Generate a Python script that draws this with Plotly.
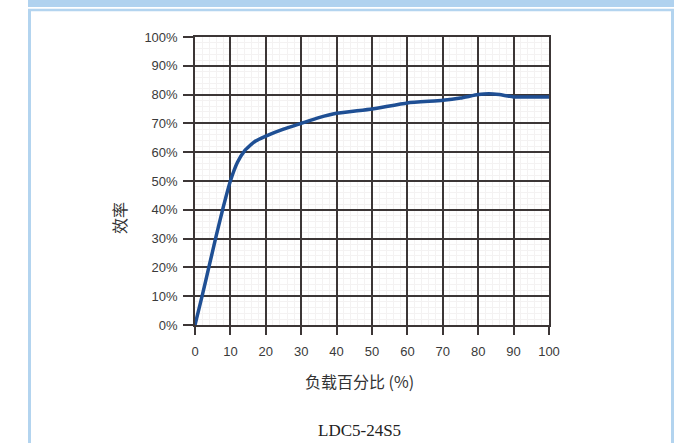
import plotly.graph_objects as go

# Efficiency vs. load curve for the LDC5-24S5 module
load_pct = [0, 2, 4, 6, 8, 10, 12, 14, 17, 20, 25, 30, 35, 40, 50, 60, 70, 75, 80, 83, 86, 90, 100]
efficiency = [0, 10, 20.5, 31, 41, 50, 56.5, 60.5, 63.8, 65.6, 68, 70, 72, 73.5, 75, 77.1, 78, 78.8, 80, 80.3, 80, 79.2, 79.2]

x_ticks = [0, 10, 20, 30, 40, 50, 60, 70, 80, 90, 100]
y_ticks = [0, 10, 20, 30, 40, 50, 60, 70, 80, 90, 100]
y_labels = [f"{v}%" for v in y_ticks]

W, H = 694, 443
L, R, T, B = 195, 549, 37, 325  # plot area in pixels


def px(x):
    return (x - L) / (R - L)


def py(y):
    return (B - y) / (B - T)


fig = go.Figure()
fig.add_trace(go.Scatter(
    x=load_pct, y=efficiency, mode="lines",
    line=dict(color="#1f4f94", width=3.5, shape="spline", smoothing=0.5),
    hoverinfo="skip", showlegend=False,
))

grid = "#3c3636"
font_tick = dict(family="Liberation Sans, Arial, sans-serif", size=13, color="#3a3a3a")

fig.update_xaxes(
    range=[0, 100], tickvals=x_ticks, ticktext=[str(v) for v in x_ticks],
    showgrid=True, gridcolor=grid, gridwidth=1.5,
    minor=dict(dtick=2, showgrid=True, gridcolor="#f4f2f2", gridwidth=1),
    zeroline=False, showline=True, linecolor=grid, linewidth=1.5, mirror=True,
    ticks="outside", ticklen=8, tickcolor=grid, tickwidth=1.5,
    ticklabelstandoff=6,
    tickfont=font_tick, fixedrange=True,
)
fig.update_yaxes(
    range=[0, 100], tickvals=y_ticks, ticktext=y_labels,
    showgrid=True, gridcolor=grid, gridwidth=1.5,
    minor=dict(dtick=2, showgrid=True, gridcolor="#f4f2f2", gridwidth=1),
    zeroline=False, showline=True, linecolor=grid, linewidth=1.5, mirror=True,
    ticks="outside", ticklen=10, tickcolor=grid, tickwidth=1.5,
    ticklabelstandoff=3,
    tickfont=font_tick, fixedrange=True,
)

frame = "#b3d4ef"
shapes = [
    # header band
    dict(type="rect", xref="paper", yref="paper", x0=px(28), x1=px(674), y0=py(7), y1=py(-2),
         fillcolor="#b0d2ef", line=dict(width=0), layer="below"),
    # panel frame
    dict(type="line", xref="paper", yref="paper", x0=px(28), x1=px(674), y0=py(10), y1=py(10),
         line=dict(color=frame, width=2.5)),
    dict(type="line", xref="paper", yref="paper", x0=px(29.5), x1=px(29.5), y0=py(9), y1=py(446),
         line=dict(color=frame, width=3)),
    dict(type="line", xref="paper", yref="paper", x0=px(672.5), x1=px(672.5), y0=py(9), y1=py(446),
         line=dict(color=frame, width=3)),
]

annotations = [
    dict(text="效率", xref="paper", yref="paper", x=px(119), y=py(218), xanchor="center",
         yanchor="middle", textangle=-90, showarrow=False,
         font=dict(family="Noto Sans CJK SC", size=16, color="#333333")),
    dict(text="负载百分比 (%)", xref="paper", yref="paper", x=px(359), y=py(381), xanchor="center",
         yanchor="middle", showarrow=False,
         font=dict(family="Noto Sans CJK SC", size=16, color="#333333")),
    dict(text="LDC5-24S5", xref="paper", yref="paper", x=px(359), y=py(430), xanchor="center",
         yanchor="middle", showarrow=False,
         font=dict(family="Liberation Serif, Times New Roman, serif", size=17, color="#222222")),
]

fig.update_layout(
    width=W, height=H,
    margin=dict(l=L, r=W - R, t=T, b=H - B, pad=0),
    paper_bgcolor="white", plot_bgcolor="white",
    shapes=shapes, annotations=annotations,
    showlegend=False,
)

fig.write_html("out.html", config={"displayModeBar": False})
